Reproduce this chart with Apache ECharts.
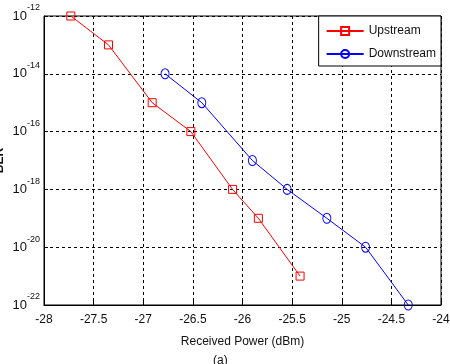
<!DOCTYPE html>
<html>
<head>
<meta charset="utf-8">
<script src="https://cdn.jsdelivr.net/npm/echarts@6/dist/echarts.min.js"></script>
<style>
html,body{margin:0;padding:0;background:#fff}
#main{width:450px;height:364px}
</style>
</head>
<body>
<div id="main"></div>
<script>
// received power (dBm) and BER
let upX = [-27.73, -27.35, -26.91, -26.52, -26.10, -25.84, -25.42]
let upBER = [1e-12, 1e-13, 1e-15, 1e-16, 1e-18, 1e-19, 1e-21]
let downX = [-26.78, -26.41, -25.90, -25.55, -25.15, -24.76, -24.33]
let downBER = [1e-14, 1e-15, 1e-17, 1e-18, 1e-19, 1e-20, 1e-22]
let xTicks = [-28, -27.5, -27, -26.5, -26, -25.5, -25, -24.5, -24]
let yExps = [-22, -20, -18, -16, -14, -12]

let font = '"Liberation Sans", Arial, sans-serif'

function pairs(xs, ys) {
  // plot on log10 of BER
  return xs.map((x, i) => [x, Math.log10(ys[i])])
}

let myChart = echarts.init(document.getElementById('main'))
myChart.setOption({
  animation: false,
  textStyle: { fontFamily: font, color: '#111' },
  grid: {
    left: 44, right: 9, top: 16, bottom: 59,
    outerBoundsMode: 'none', containLabel: false,
    show: true, borderColor: '#000', borderWidth: 1
  },
  legend: {
    orient: 'vertical',
    right: 9, top: 16,
    padding: [9, 5, 6, 7],
    itemWidth: 37, itemHeight: 10, itemGap: 11,
    backgroundColor: '#fff',
    borderColor: '#000', borderWidth: 1,
    textStyle: { fontFamily: font, fontSize: 12, color: '#111' },
    data: ['Upstream', 'Downstream']
  },
  xAxis: {
    type: 'value',
    min: xTicks[0], max: xTicks[xTicks.length - 1], interval: 0.5,
    name: 'Received Power (dBm)',
    nameLocation: 'middle', nameGap: 31, nameMoveOverlap: false,
    nameTextStyle: { fontSize: 12, color: '#111', fontFamily: font },
    axisLine: { lineStyle: { color: '#000', width: 1 } },
    axisTick: { inside: true, length: 4, lineStyle: { color: '#000' } },
    axisLabel: { margin: 9, fontSize: 12, color: '#111', fontFamily: font },
    splitLine: { show: true, lineStyle: { color: '#000', type: [3, 3], width: 1 } }
  },
  yAxis: {
    type: 'value',
    min: yExps[0], max: yExps[yExps.length - 1], interval: 2,
    name: 'BER',
    nameLocation: 'middle', nameGap: 38, nameMoveOverlap: false,
    nameTextStyle: { fontSize: 12, fontWeight: 'bold', color: '#111', fontFamily: font },
    axisLine: { lineStyle: { color: '#000', width: 1 } },
    axisTick: { inside: true, length: 4, lineStyle: { color: '#000' } },
    axisLabel: {
      margin: 4,
      formatter: v => '{b|10}{e|' + v + '}',
      rich: {
        b: { fontSize: 13, lineHeight: 13, verticalAlign: 'middle', color: '#111', fontFamily: font },
        e: { fontSize: 9, lineHeight: 9, verticalAlign: 'middle', padding: [0, 0, 16, 0], color: '#111', fontFamily: font }
      }
    },
    splitLine: { show: true, lineStyle: { color: '#000', type: [3, 3], width: 1 } }
  },
  series: [
    {
      name: 'Upstream',
      type: 'line',
      data: pairs(upX, upBER),
      symbol: 'rect', symbolSize: 8,
      showAllSymbol: true,
      clip: false,
      color: '#f00',
      lineStyle: { width: 1, color: '#f00' },
      itemStyle: { color: 'rgba(0,0,0,0)', borderColor: '#f00', borderWidth: 1 }
    },
    {
      name: 'Downstream',
      type: 'line',
      data: pairs(downX, downBER),
      symbol: 'circle', symbolSize: [8, 10],
      showAllSymbol: true,
      clip: false,
      color: '#00f',
      lineStyle: { width: 1, color: '#00f' },
      itemStyle: { color: 'rgba(0,0,0,0)', borderColor: '#00f', borderWidth: 1 }
    }
  ],
  graphic: [
    { type: 'text', left: 213, top: 355, style: { text: '(a)', fontSize: 12, fill: '#111', fontFamily: font } }
  ]
})
</script>
</body>
</html>
